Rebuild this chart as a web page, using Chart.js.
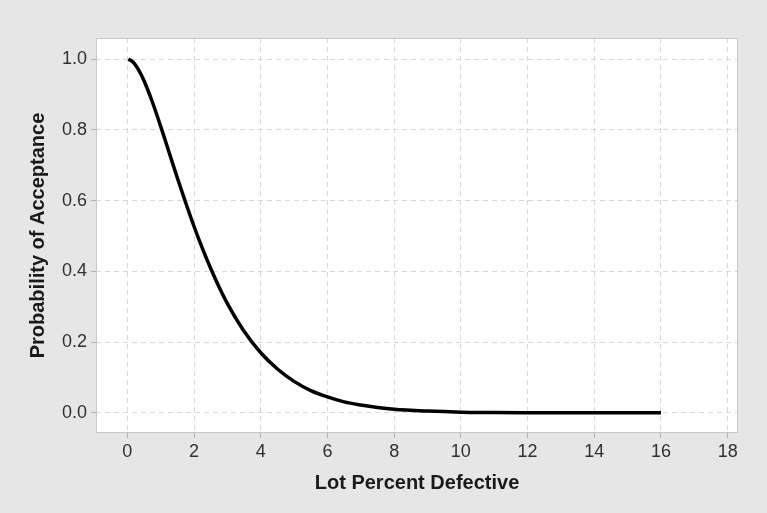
<!DOCTYPE html>
<html>
<head>
<meta charset="utf-8">
<script src="https://cdn.jsdelivr.net/npm/chart.js@4"></script>
<style>
  html, body { margin: 0; padding: 0; background: #e6e6e6; }
  #wrap { width: 767px; height: 513px; }
</style>
</head>
<body>
<div id="wrap"><canvas id="chart"></canvas></div>
<script>
// lot percent defective (x) and probability of acceptance (y)
const lotPercent = [0.03, 0.1, 0.2, 0.35, 0.5, 0.75, 1, 1.25, 1.5, 1.75, 2, 2.25, 2.5, 2.75, 3, 3.5, 4, 4.5, 5, 5.5, 6, 6.5, 7, 7.5, 8, 9, 10, 11, 12, 13, 14, 15, 16];
const probAccept = [1.0, 0.997, 0.989, 0.968, 0.939, 0.879, 0.810, 0.737, 0.664, 0.594, 0.527, 0.465, 0.408, 0.356, 0.309, 0.231, 0.170, 0.124, 0.089, 0.063, 0.045, 0.031, 0.022, 0.015, 0.010, 0.005, 0.002, 0.001, 0.0004, 0, 0, 0, 0];
const xTicks = [0, 2, 4, 6, 8, 10, 12, 14, 16, 18];
const yTicks = [0, 0.2, 0.4, 0.6, 0.8, 1.0];

const ctx = document.getElementById('chart');

const frame = {
    id: 'frame',
    beforeDraw(chart) {
        const c = chart.ctx, a = chart.chartArea;
        c.save();
        c.fillStyle = '#e6e6e6';
        c.fillRect(0, 0, chart.width, chart.height);
        c.fillStyle = '#ffffff';
        c.fillRect(a.left, a.top, a.right - a.left, a.bottom - a.top);
        c.restore();
    },
    afterDatasetsDraw(chart) {
        const c = chart.ctx, a = chart.chartArea;
        c.save();
        c.strokeStyle = '#c8c8c8';
        c.lineWidth = 1;
        c.strokeRect(a.left + 0.5, a.top + 0.5, a.right - a.left - 1, a.bottom - a.top - 1);
        c.restore();
    }
};

new Chart(ctx, {
    type: 'line',
    data: {
        datasets: [{
            data: lotPercent.map((x, i) => ({ x: x, y: probAccept[i] })),
            borderColor: '#000000',
            borderWidth: 3.5,
            pointRadius: 0,
            cubicInterpolationMode: 'monotone',
            fill: false
        }]
    },
    options: {
        responsive: true,
        maintainAspectRatio: false,
        animation: false,
        layout: { padding: { left: 0, top: 38, right: 29, bottom: 0 } },
        scales: {
            x: {
                type: 'linear',
                min: -0.94,
                max: 18.31,
                afterBuildTicks: function (scale) {
                    scale.ticks = xTicks.map(v => ({ value: v }));
                },
                afterFit: function (scale) { scale.height = 80; },
                grid: {
                    color: '#d8d8d8',
                    lineWidth: 1,
                    tickLength: 5,
                    tickColor: '#b0b0b0'
                },
                border: { display: false, dash: [5, 4] },
                ticks: {
                    color: '#303030',
                    padding: 3,
                    font: { family: 'Liberation Sans, Arial, sans-serif', size: 18 }
                },
                title: {
                    display: true,
                    text: 'Lot Percent Defective',
                    color: '#1a1a1a',
                    padding: { top: 0, bottom: 18 },
                    font: { family: 'Liberation Sans, Arial, sans-serif', size: 20, weight: 'bold' }
                }
            },
            y: {
                min: -0.057,
                max: 1.06,
                afterBuildTicks: function (scale) {
                    scale.ticks = yTicks.map(v => ({ value: v }));
                },
                afterFit: function (scale) { scale.width = 96; },
                grid: {
                    color: '#d8d8d8',
                    lineWidth: 1,
                    tickLength: 5,
                    tickColor: '#b0b0b0'
                },
                border: { display: false, dash: [5, 4] },
                ticks: {
                    color: '#303030',
                    padding: 4,
                    font: { family: 'Liberation Sans, Arial, sans-serif', size: 18 },
                    callback: function (value) {
                        return value.toFixed(1);
                    }
                },
                title: {
                    display: true,
                    text: 'Probability of Acceptance',
                    color: '#1a1a1a',
                    padding: { top: 26, bottom: 0 },
                    font: { family: 'Liberation Sans, Arial, sans-serif', size: 20, weight: 'bold' }
                }
            }
        },
        plugins: {
            legend: { display: false },
            tooltip: { enabled: false }
        }
    },
    plugins: [frame]
});
</script>
</body>
</html>
